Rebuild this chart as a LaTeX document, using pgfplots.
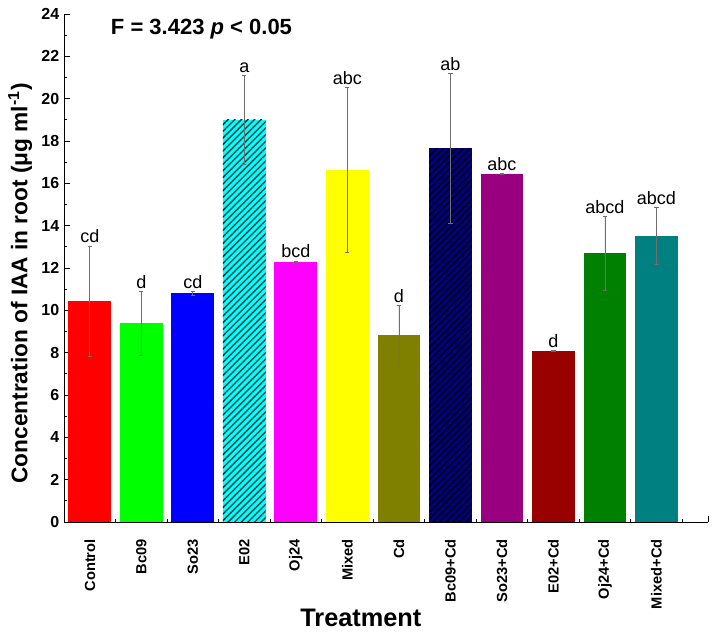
\documentclass[border=0pt]{standalone}
\usepackage{fontspec}
\setmainfont{Liberation Sans}
\usepackage{pgfplots}
\pgfplotsset{compat=1.18}
\usetikzlibrary{patterns.meta}

\definecolor{cRed}{RGB}{255,0,0}
\definecolor{cLime}{RGB}{0,255,0}
\definecolor{cBlue}{RGB}{0,0,255}
\definecolor{cCyan}{RGB}{0,255,255}
\definecolor{cMagenta}{RGB}{255,0,255}
\definecolor{cYellow}{RGB}{255,255,0}
\definecolor{cOlive}{RGB}{128,128,0}
\definecolor{cNavy}{RGB}{0,0,128}
\definecolor{cPurple}{RGB}{153,0,128}
\definecolor{cMaroon}{RGB}{153,0,0}
\definecolor{cGreen}{RGB}{0,128,0}
\definecolor{cTeal}{RGB}{0,128,128}
\definecolor{errgray}{RGB}{110,110,110}

\pgfplotsset{
  bb/.style={ybar, bar width=0.83, bar shift=0pt, draw=none, fill=#1,
    error bars/y dir=both, error bars/y explicit,
    error bars/error bar style={errgray, line width=0.55pt},
    error bars/error mark options={rotate=90, mark size=1.6pt, errgray, line width=0.55pt}},
  hatch/.style={postaction={pattern={Lines[angle=45,distance=3.5pt,line width=1pt]}, pattern color=#1}},
}

\begin{document}
\begin{tikzpicture}
\begin{axis}[
  name=ax,
  scale only axis,
  width=483pt, height=381pt,
  xmin=0.5, xmax=13, ymin=0, ymax=24,
  axis lines*=left,
  axis line style={line width=0.7pt},
  xtick={1,...,13},
  xticklabels={Control,Bc09,So23,E02,Oj24,Mixed,Cd,Bc09+Cd,So23+Cd,E02+Cd,Oj24+Cd,Mixed+Cd,{}},
  minor xtick={0.5,1.5,...,12.5},
  ytick={0,2,...,24},
  minor ytick={1,3,...,23},
  tick align=inside, xtick pos=left, ytick pos=left,
  major tick length=4.5pt, minor tick length=2.5pt,
  tick style={black, line width=0.6pt},
  xticklabel style={yshift=-9.5pt, rotate=90, anchor=east, font=\fontsize{11}{13}\selectfont\bfseries},
  yticklabel style={font=\fontsize{12}{13}\selectfont\bfseries},
  /pgf/number format/assume math mode=true,
  ylabel={Concentration of IAA in root (μg ml\textsuperscript{-1})},
  ylabel style={at={(axis description cs:-0.068,0.4695)}, anchor=center,
    font=\fontsize{17}{20}\selectfont\bfseries},
  xlabel={Treatment},
  xlabel style={at={(axis description cs:0.461,0)}, anchor=center, yshift=-72pt,
    font=\fontsize{19}{22}\selectfont\bfseries},
  clip=false,
]
% bars, mean +- error
\addplot[bb=cRed] coordinates {(1,10.44) +- (0,2.6)};
\addplot[bb=cLime] coordinates {(2,9.39) +- (0,1.5)};
\addplot[bb=cBlue] coordinates {(3,10.8) +- (0,0.1)};
\addplot[bb=cCyan, hatch={black!75!cyan}] coordinates {(4,19.0) +- (0,2.1)};
\addplot[bb=cMagenta] coordinates {(5,12.3) +- (0,0.03)};
\addplot[bb=cYellow] coordinates {(6,16.63) +- (0,3.88)};
\addplot[bb=cOlive] coordinates {(7,8.83) +- (0,1.41)};
\addplot[bb=cNavy, hatch=black] coordinates {(8,17.65) +- (0,3.55)};
\addplot[bb=cPurple] coordinates {(9,16.45) +- (0,0.03)};
\addplot[bb=cMaroon] coordinates {(10,8.07) +- (0,0.03)};
\addplot[bb=cGreen] coordinates {(11,12.69) +- (0,1.75)};
\addplot[bb=cTeal] coordinates {(12,13.52) +- (0,1.34)};

% significance letters
\addplot[only marks, mark=none, nodes near coords, point meta=explicit symbolic,
  nodes near coords style={font=\fontsize{13.5}{15}\selectfont, anchor=south, inner sep=2pt}]
  table[meta=l] {
x y l
1 13.04 cd
2 10.88 d
3 10.90 cd
4 21.10 a
5 12.33 bcd
6 20.51 abc
7 10.24 d
8 21.20 ab
9 16.48 abc
10 8.10 d
11 14.44 abcd
12 14.86 abcd
};

\node[font=\fontsize{16.5}{20}\selectfont\bfseries] at (rel axis cs:0.2135,0.97) {F = 3.423 \textit{p} < 0.05};
\end{axis}
\pgfresetboundingbox
\useasboundingbox ([shift={(-48pt,-87pt)}]ax.south west) rectangle ([shift={(5.25pt,10.5pt)}]ax.north east);
\end{tikzpicture}
\end{document}
